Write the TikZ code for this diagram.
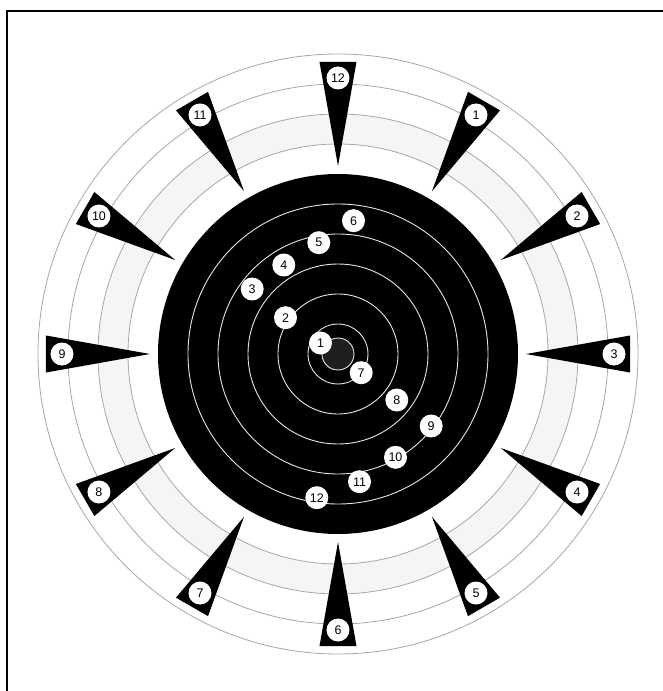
\documentclass[tikz,border=0pt]{standalone}
\usepackage{fontspec}
\newfontfamily\lblfont{Liberation Sans}
\usetikzlibrary{calc}
\tikzset{
  lbl/.style={circle, fill=white, inner sep=0pt, minimum size=23pt, font=\lblfont\fontsize{12.5}{13}\selectfont},
  graycirc/.style={draw=black!35, line width=0.8pt},
  whitecirc/.style={draw=white!90!black, line width=0.9pt},
  pointer/.style={fill=black}
}
\begin{document}
\begin{tikzpicture}[x=1pt,y=1pt]
\useasboundingbox (-338,-337) rectangle (325,354);
% frame
\draw[line width=1.5pt] (-331,-337) -- (-331,343) -- (325,343);
% stippled band
\fill[black!4, even odd rule] (0,0) circle (240) (0,0) circle (210);
\foreach \r in {210,240,270,300} \draw[graycirc] (0,0) circle (\r);
% black disk
\fill[black] (0,0) circle (180);
\fill[black!88] (0,0) circle (16);
\foreach \r in {16,30,60,90,120,150} \draw[whitecirc] (0,0) circle (\r);
% pointers
\foreach \k in {1,...,12}{
  \pgfmathsetmacro\a{90-30*\k}
  \fill[pointer] (\a:188) -- ($(\a:292)+(\a+90:18.5)$) -- ($(\a:292)+(\a-90:18.5)$) -- cycle;
  \node[lbl] (p\k) at (\a:276) {\k};
}
% data labels
\node[lbl] (l1) at (-17.5,11) {1};
\node[lbl] (l2) at (-52.5,36.3) {2};
\node[lbl] (l3) at (-85.8,65) {3};
\node[lbl] (l4) at (-54.2,89) {4};
\node[lbl] (l5) at (-19.2,111.3) {5};
\node[lbl] (l6) at (15.5,133.3) {6};
\node[lbl] (l7) at (23.2,-18.7) {7};
\node[lbl] (l8) at (58.8,-46) {8};
\node[lbl] (l9) at (93.2,-72) {9};
\node[lbl] (l10) at (57.5,-103.3) {10};
\node[lbl] (l11) at (21.5,-127.7) {11};
\node[lbl] (l12) at (-21.2,-143.7) {12};
\end{tikzpicture}
\end{document}
